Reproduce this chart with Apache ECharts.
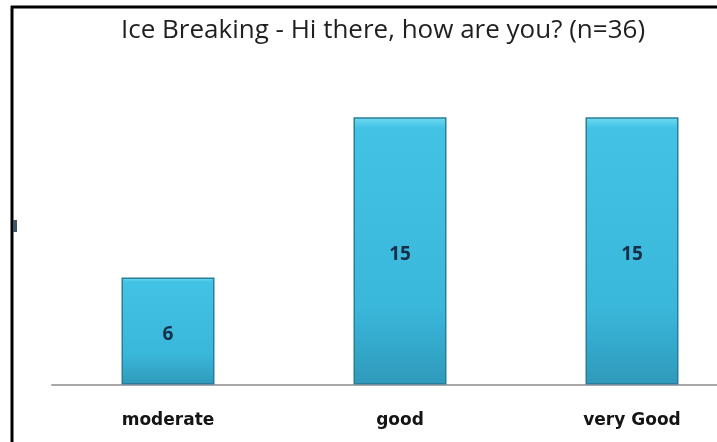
<!DOCTYPE html>
<html>
<head>
<meta charset="utf-8">
<script src="https://cdn.jsdelivr.net/npm/echarts@6/dist/echarts.min.js"></script>
<style>
  html, body { margin: 0; padding: 0; background: #ffffff; overflow: hidden; }
  #chart { width: 748px; height: 442px; }
</style>
</head>
<body>
<div id="chart"></div>
<script>
// Survey responses
const titleText = 'Ice Breaking - Hi there, how are you? (n=36)';
const categories = ['moderate', 'good', 'very Good'];
const responses = [6, 15, 15];

const chart = echarts.init(document.getElementById('chart'), null, { renderer: 'canvas' });

const barFill = new echarts.graphic.LinearGradient(0, 0, 0, 1, [
  { offset: 0, color: '#72dcf3' },
  { offset: 0.04, color: '#42c2e5' },
  { offset: 0.7, color: '#3ab8dc' },
  { offset: 1, color: '#2f9abb' }
]);

chart.setOption({
  backgroundColor: '#ffffff',
  animation: false,
  title: {
    text: titleText,
    left: 378,
    textAlign: 'center',
    top: 13,
    textStyle: {
      fontFamily: 'Open Sans',
      fontSize: 26,
      fontWeight: 'normal',
      color: '#1f1f1f'
    }
  },
  grid: { left: 52, right: 0, top: 28, bottom: 57.5, containLabel: false },
  xAxis: {
    type: 'category',
    data: categories,
    axisLine: { show: true, lineStyle: { color: '#a8a8a8', width: 2 } },
    axisTick: { show: false },
    axisLabel: {
      margin: 28,
      fontFamily: 'DejaVu Sans',
      fontWeight: 'bold',
      fontSize: 17,
      color: '#141414'
    }
  },
  yAxis: {
    type: 'value',
    min: 0,
    max: 20,
    show: false,
    splitLine: { show: false }
  },
  series: [{
    type: 'bar',
    data: responses,
    barWidth: 93,
    itemStyle: {
      color: barFill,
      borderColor: '#2b7e98',
      borderWidth: 1.5
    },
    label: {
      show: true,
      position: 'inside',
      offset: [0, 4],
      fontFamily: 'Open Sans',
      fontWeight: 'bold',
      fontSize: 19,
      color: '#172e48'
    }
  }],
  graphic: [
    { type: 'line', shape: { x1: 11, y1: 7, x2: 748, y2: 7 }, style: { stroke: '#000', lineWidth: 3 } },
    { type: 'line', shape: { x1: 12, y1: 6, x2: 12, y2: 442 }, style: { stroke: '#000', lineWidth: 3 } },
    { type: 'rect', shape: { x: 13, y: 220, width: 4, height: 12 }, style: { fill: '#3f5566' } }
  ]
});
</script>
</body>
</html>
